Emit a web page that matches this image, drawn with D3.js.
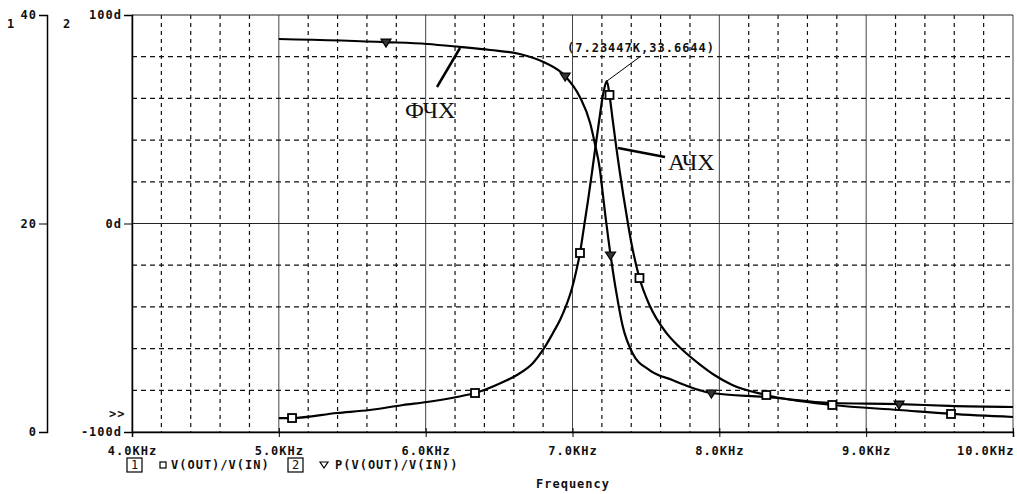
<!DOCTYPE html>
<html lang="en">
<head>
    <meta charset="UTF-8">
    <title>АЧХ / ФЧХ</title>
    <script src="https://d3js.org/d3.v7.min.js"></script>
    <style>
        body{margin:0;background:#fff;}
        svg{width:1017px;height:494px;display:block;}
        .mono{font-family:"DejaVu Sans Mono",monospace;font-weight:bold;font-size:12px;letter-spacing:1px;fill:#111;}
        .serif{font-family:"Liberation Serif","DejaVu Serif",serif;font-size:24px;fill:#111;}
    </style>
</head>
<body>
<svg viewBox="0 0 1017 494"></svg>

<script>
    // frequency in kHz
    const ampFreq = [5.0, 5.09, 5.396, 5.62, 5.846, 6.009, 6.213, 6.336, 6.527, 6.622, 6.731, 6.799, 6.867, 6.915,
        6.956, 6.997, 7.024, 7.051, 7.078, 7.106, 7.133, 7.16, 7.187, 7.205, 7.219, 7.234,
        7.252, 7.272, 7.299, 7.32, 7.347, 7.367, 7.401, 7.456, 7.524, 7.639, 7.728, 7.796, 7.864, 7.966,
        8.088, 8.32, 8.769, 9.224, 9.578, 10.0]
    // V(OUT)/V(IN), axis 1 (0..40)
    const ampVal = [1.34, 1.34, 1.82, 2.11, 2.59, 2.88, 3.36, 3.74, 4.8, 5.47, 6.62, 7.87, 9.5, 10.74,
        12.09, 13.81, 15.35, 17.17, 19.66, 22.25, 24.94, 27.72, 30.41, 32.13, 33.09, 33.66,
        32.33, 30.12, 27.24, 25.13, 22.64, 20.91, 18.13, 14.77, 12.18, 9.5, 8.15, 7.29, 6.52, 5.47,
        4.51, 3.55, 2.59, 2.11, 1.73, 1.44]

    const phFreq = [5.0, 5.73, 6.01, 6.23, 6.44, 6.64, 6.81, 6.95, 7.05, 7.12, 7.15, 7.187, 7.205, 7.224,
        7.245, 7.259, 7.279, 7.299, 7.34, 7.408, 7.524, 7.68, 7.864, 7.946, 8.32, 8.769, 9.224, 9.565, 10.0]
    // P(V(OUT)/V(IN)), degrees, axis 2 (-100..100)
    const phVal = [88.5, 87.0, 86.1, 84.7, 83.2, 81.3, 77.2, 70.7, 60.7, 48.2, 39.1, 25.7, 15.1, 3.6,
        -7.9, -15.1, -24.7, -33.3, -48.7, -62.1, -70.3, -75.1, -79.9, -81.3, -83.2, -86.1, -86.6, -87.5, -88.0]

    // where the symbols sit on each trace
    const ampMarks = [5.09, 6.336, 7.051, 7.252, 7.456, 8.32, 8.769, 9.578]
    const phMarks = [5.73, 6.95, 7.259, 7.946, 9.224]

    const freqTicks = [4, 5, 6, 7, 8, 9, 10]
    const axis1Ticks = [0, 20, 40]
    const axis2Ticks = [-100, 0, 100]
    const peak = {f: 7.23447, v: 33.6644}

    const svg = d3.select("svg")
    const pLeft = 132, pRight = 1013, pTop = 15, pBottom = 432

    const x = d3.scaleLinear().domain([4, 10]).range([pLeft, pRight])
    const y1 = d3.scaleLinear().domain([0, 40]).range([pBottom, pTop])
    const y2 = d3.scaleLinear().domain([-100, 100]).range([pBottom, pTop])

    // grid
    const grid = svg.append("g")
    d3.range(4, 10.001, 0.2).forEach(f => {
        const major = Math.abs(f - Math.round(f)) < 1e-6
        grid.append("line")
            .attr("x1", x(f)).attr("x2", x(f)).attr("y1", pTop).attr("y2", pBottom)
            .attr("stroke", major ? "#444" : "#111")
            .attr("stroke-width", major ? 1 : 1.2)
            .attr("stroke-dasharray", major ? null : "4,4")
    })
    d3.range(-100, 100.001, 20).forEach(d => {
        const solid = Math.abs(d) < 1e-6 || Math.abs(Math.abs(d) - 100) < 1e-6
        grid.append("line")
            .attr("x1", pLeft).attr("x2", pRight).attr("y1", y2(d)).attr("y2", y2(d))
            .attr("stroke", solid ? "#222" : "#111")
            .attr("stroke-width", solid ? 1 : 1.2)
            .attr("stroke-dasharray", solid ? null : "5,4")
    })

    // bottom axis
    const xAxis = d3.axisBottom(x).tickValues(freqTicks).tickSize(5).tickPadding(9)
        .tickFormat(d => d.toFixed(1) + "KHz")
    const gx = svg.append("g").attr("transform", `translate(0,${pBottom})`).call(xAxis)
    gx.select(".domain").attr("stroke", "#000").attr("stroke-width", 1.5)
    gx.selectAll(".tick line").attr("stroke", "#000").attr("y1", -4)
    gx.selectAll(".tick text").attr("class", "mono").attr("font-size", null).attr("font-family", null)
        .attr("text-anchor", d => d === 10 ? "end" : "middle")
        .attr("dx", d => d === 10 ? 1 : 0)

    // axis 2 (degrees)
    const yAxis2 = d3.axisLeft(y2).tickValues(axis2Ticks).tickSize(8).tickPadding(2)
        .tickFormat(d => d + "d")
    const gy2 = svg.append("g").attr("transform", `translate(${pLeft},0)`).call(yAxis2)
    gy2.select(".domain").attr("stroke", "#000").attr("stroke-width", 1.5)
    gy2.selectAll(".tick line").attr("stroke", "#000")
    gy2.selectAll(".tick text").attr("class", "mono").attr("font-size", null).attr("font-family", null)

    // axis 1 (magnitude)
    const yAxis1 = d3.axisLeft(y1).tickValues(axis1Ticks).tickSize(8).tickPadding(2)
    const gy1 = svg.append("g").attr("transform", "translate(47,0)").call(yAxis1)
    gy1.select(".domain").attr("stroke", "#000").attr("stroke-width", 1.5)
    gy1.selectAll(".tick line").attr("stroke", "#000")
    gy1.selectAll(".tick text").attr("class", "mono").attr("font-size", null).attr("font-family", null)

    svg.append("text").attr("class", "mono").attr("x", 7).attr("y", 28).text("1")
    svg.append("text").attr("class", "mono").attr("x", 63).attr("y", 28).text("2")
    svg.append("text").attr("class", "mono").attr("x", 109).attr("y", 418).text(">>")

    // traces
    const ampPts = ampFreq.map((f, i) => [f, ampVal[i]])
    const phPts = phFreq.map((f, i) => [f, phVal[i]])
    const ampLine = d3.line().x(d => x(d[0])).y(d => y1(d[1])).curve(d3.curveMonotoneX)
    const phLine = d3.line().x(d => x(d[0])).y(d => y2(d[1])).curve(d3.curveMonotoneX)
    const traces = svg.append("g").attr("fill", "none").attr("stroke", "#000")
        .attr("stroke-width", 2.2).attr("stroke-linejoin", "round")
    traces.append("path").attr("d", ampLine(ampPts))
    traces.append("path").attr("d", phLine(phPts))

    const interp = (fs, vs, f) => {
        const i = Math.min(fs.length - 1, Math.max(1, d3.bisectLeft(fs, f)))
        const t = (f - fs[i - 1]) / (fs[i] - fs[i - 1])
        return vs[i - 1] + t * (vs[i] - vs[i - 1])
    }
    svg.append("g").selectAll("rect").data(ampMarks).join("rect")
        .attr("x", f => x(f) - 4).attr("y", f => y1(interp(ampFreq, ampVal, f)) - 4)
        .attr("width", 8).attr("height", 8)
        .attr("fill", "#fff").attr("stroke", "#000").attr("stroke-width", 1.8)
    svg.append("g").selectAll("path").data(phMarks).join("path")
        .attr("transform", f => `translate(${x(f)},${y2(interp(phFreq, phVal, f))})`)
        .attr("d", "M-5,-3L5,-3L0,5Z")
        .attr("fill", "#333").attr("stroke", "#000").attr("stroke-width", 1.2)

    // peak label
    svg.append("line")
        .attr("x1", x(peak.f)).attr("y1", y1(peak.v))
        .attr("x2", x(peak.f) + 34).attr("y2", y1(peak.v) - 25)
        .attr("stroke", "#000").attr("stroke-width", 1)
    svg.append("text").attr("class", "mono").attr("x", 567).attr("y", 52)
        .text(`(${peak.f}K,${peak.v})`)

    // hand-written labels
    svg.append("line").attr("x1", 437).attr("y1", 87).attr("x2", 460).attr("y2", 48)
        .attr("stroke", "#000").attr("stroke-width", 2.5)
    svg.append("text").attr("class", "serif").attr("x", 405).attr("y", 118).text("ФЧХ")
    svg.append("line").attr("x1", 618).attr("y1", 148).attr("x2", 665).attr("y2", 157)
        .attr("stroke", "#000").attr("stroke-width", 2.5)
    svg.append("text").attr("class", "serif").attr("x", 668).attr("y", 170).text("АЧХ")

    // legend
    const leg = svg.append("g")
    const boxNum = (bx, label) => {
        leg.append("rect").attr("x", bx).attr("y", 458).attr("width", 15).attr("height", 14)
            .attr("fill", "none").attr("stroke", "#000").attr("stroke-width", 1.2)
        leg.append("text").attr("class", "mono").attr("x", bx + 4).attr("y", 469)
            .style("font-weight", "normal").text(label)
    }
    boxNum(127, "1")
    leg.append("rect").attr("x", 160).attr("y", 462).attr("width", 6).attr("height", 6)
        .attr("fill", "none").attr("stroke", "#000").attr("stroke-width", 1.2)
    leg.append("text").attr("class", "mono").attr("x", 171).attr("y", 469).text("V(OUT)/V(IN)")
    boxNum(288, "2")
    leg.append("path").attr("transform", "translate(324,465)").attr("d", "M-4,-3L4,-3L0,3Z")
        .attr("fill", "none").attr("stroke", "#000").attr("stroke-width", 1.2)
    leg.append("text").attr("class", "mono").attr("x", 335).attr("y", 469).text("P(V(OUT)/V(IN))")

    svg.append("text").attr("class", "mono").attr("x", 573).attr("y", 488)
        .attr("text-anchor", "middle").text("Frequency")
</script>
</body>
</html>
